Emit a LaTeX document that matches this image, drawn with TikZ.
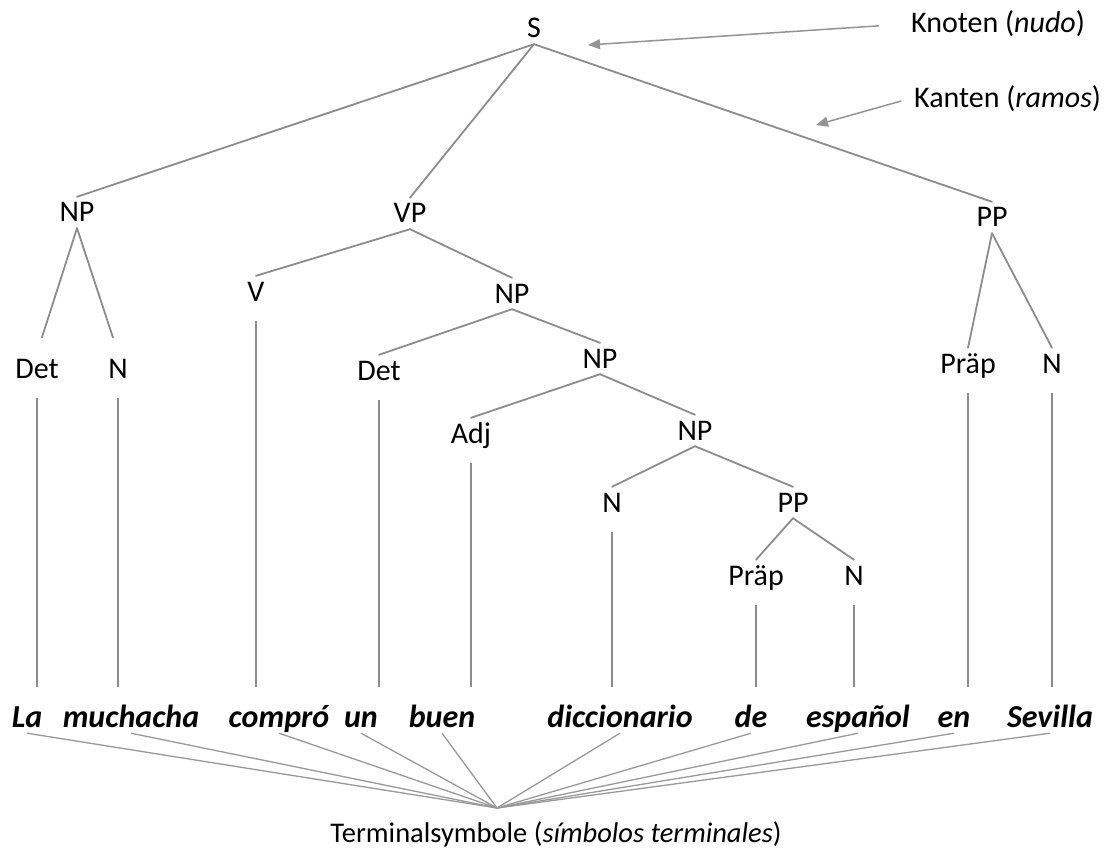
\documentclass[tikz,border=0pt]{standalone}
\usepackage{fontspec}
\setmainfont{Carlito}
\usetikzlibrary{arrows.meta}
\begin{document}
\begin{tikzpicture}[x=1pt,y=-1pt,
  cat/.style={anchor=base, inner sep=6pt, text height=19pt, text depth=0pt, font=\fontsize{30}{36}\selectfont},
  word/.style={cat, font=\fontsize{32}{36}\selectfont\bfseries\itshape},
  note/.style={anchor=base west, inner sep=6pt, font=\fontsize{30}{36}\selectfont},
  branch/.style={draw=black!45, line width=1.8pt, line cap=round},
  stem/.style={draw=black!45, line width=1.3pt, shorten <=14pt, shorten >=15pt},
  fan/.style={draw=black!40, line width=1.3pt},
  pointer/.style={draw=black!42, fill=black!42, line width=1.5pt, -{Triangle[length=12pt,width=10pt]}}]
  \useasboundingbox (0,0) rectangle (1118,850);
  % categories
  \node[cat] (s) at (534,38) {S};
  \node[cat] (np1) at (77,222) {NP};
  \node[cat] (vp) at (410,223) {VP};
  \node[cat] (pp1) at (992,227) {PP};
  \node[cat] (det1) at (37,378) {Det};
  \node[cat] (n1) at (118,378) {N};
  \node[cat] (v) at (256,301) {V};
  \node[cat] (np2) at (512,303) {NP};
  \node[cat] (det2) at (379,380) {Det};
  \node[cat] (np3) at (600,368) {NP};
  \node[cat] (adj) at (471,443) {Adj};
  \node[cat] (np4) at (695,440) {NP};
  \node[cat] (n2) at (612,512) {N};
  \node[cat] (pp2) at (793,512) {PP};
  \node[cat] (praep2) at (756,585) {Präp};
  \node[cat] (n3) at (854,585) {N};
  \node[cat] (praep1) at (968,373) {Präp};
  \node[cat] (n4) at (1052,373) {N};
  % terminals
  \node[word] (la) at (27,727) {La};
  \node[word] (mucha) at (131,727) {muchacha};
  \node[word] (compro) at (279,727) {compró};
  \node[word] (un) at (361,727) {un};
  \node[word] (buen) at (442,727) {buen};
  \node[word] (dicc) at (620,727) {diccionario};
  \node[word] (de) at (751,727) {de};
  \node[word] (espanol) at (858,727) {español};
  \node[word] (en) at (954,727) {en};
  \node[word] (sevilla) at (1050,727) {Sevilla};
  % labels
  \node[note] (knoten) at (905,33) {Knoten (\textit{nudo})};
  \node[note] (kanten) at (908,108) {Kanten (\textit{ramos})};
  \node[cat, font=\fontsize{28.5}{34}\selectfont] (term) at (556,842) {Terminalsymbole (\textit{símbolos terminales})};
  \coordinate (hub) at (497,808);
  \coordinate (nodetip) at (588,45);
  \coordinate (edgetip) at (816,125);

  \foreach \a/\b in {s/np1, s/vp, s/pp1, vp/v, vp/np2, np2/det2, np2/np3,
    np3/adj, np3/np4, np4/n2, np4/pp2, pp2/praep2, pp2/n3, pp1/praep1, pp1/n4}
    \draw[branch] (\a.south) -- (\b.north);
  \draw[branch, shorten >=16pt] (np1.south) -- (det1.north);
  \draw[branch, shorten >=16pt] (np1.south) -- (n1.north);

  \foreach \a/\b in {det1/la, n1/mucha, v/compro, det2/un, adj/buen,
    n2/dicc, praep2/de, n3/espanol, praep1/en, n4/sevilla}
    \draw[stem] (\a.south) -- (\a.south |- \b.north);

  \foreach \w in {la, mucha, compro, un, buen, dicc, de, espanol, en, sevilla}
    \draw[fan] (\w.south) -- (hub);

  \draw[pointer, shorten <=26pt] (knoten.west) -- (nodetip);
  \draw[pointer, shorten <=7pt] (kanten.west) -- (edgetip);
\end{tikzpicture}
\end{document}
